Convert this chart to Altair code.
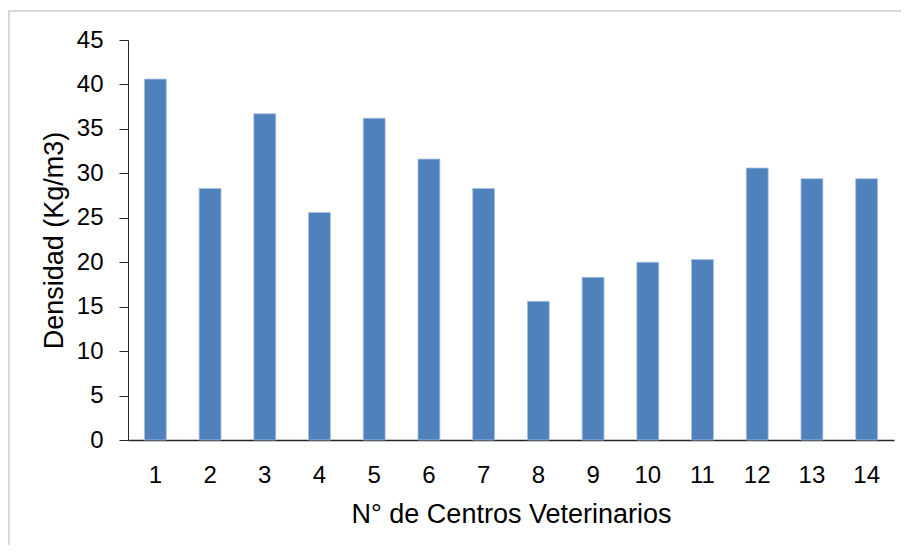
import altair as alt
import pandas as pd

centros = [str(i) for i in range(1, 15)]
densidad = [40.6, 28.3, 36.7, 25.6, 36.2, 31.6, 28.3, 15.6, 18.3, 20.0, 20.3, 30.6, 29.4, 29.4]
y_ticks = [0, 5, 10, 15, 20, 25, 30, 35, 40, 45]

df = pd.DataFrame({"centro": centros, "densidad": densidad})

FONT = "Liberation Sans"

bars = alt.Chart(df).mark_bar(color="#4f81bd", stroke="#a9c0de", strokeWidth=0.8).encode(
    x=alt.X("centro:N", sort=centros,
            scale=alt.Scale(paddingInner=0.6, paddingOuter=0.3),
            axis=alt.Axis(title="N° de Centros Veterinarios", labelAngle=0, ticks=False,
                          tickSize=0, labelPadding=23, titlePadding=14,
                          labelFontSize=24,
                          domainColor="#262626", domainWidth=1.5)),
    y=alt.Y("densidad:Q", scale=alt.Scale(domain=[0, 45], nice=False),
            axis=alt.Axis(title="Densidad (Kg/m3)", values=y_ticks, grid=False,
                          labelFontSize=24,
                          tickSize=9, tickColor="#262626", labelPadding=16, titlePadding=8,
                          domainColor="#262626")),
)

top_line = alt.Chart(df).mark_rule(color="#d9d9d9", strokeWidth=2).encode(
    x=alt.value(-120), x2=alt.value(800), y=alt.value(-29)
)
left_line = alt.Chart(df).mark_rule(color="#d9d9d9", strokeWidth=2).encode(
    x=alt.value(-119), y=alt.value(-29), y2=alt.value(520)
)

chart = alt.layer(bars, top_line, left_line).properties(
    width=766, height=400,
    autosize=alt.AutoSizeParams(type="none"),
    padding={"left": 120, "top": 32, "right": 7, "bottom": 105},
    background="white",
).configure_view(stroke=None).configure_axis(
    labelFont=FONT, titleFont=FONT, titleFontSize=27,
    labelColor="#000000", titleColor="#000000", titleFontWeight="normal",
)

chart.save("out.html", embed_options={"renderer": "svg", "actions": False})
